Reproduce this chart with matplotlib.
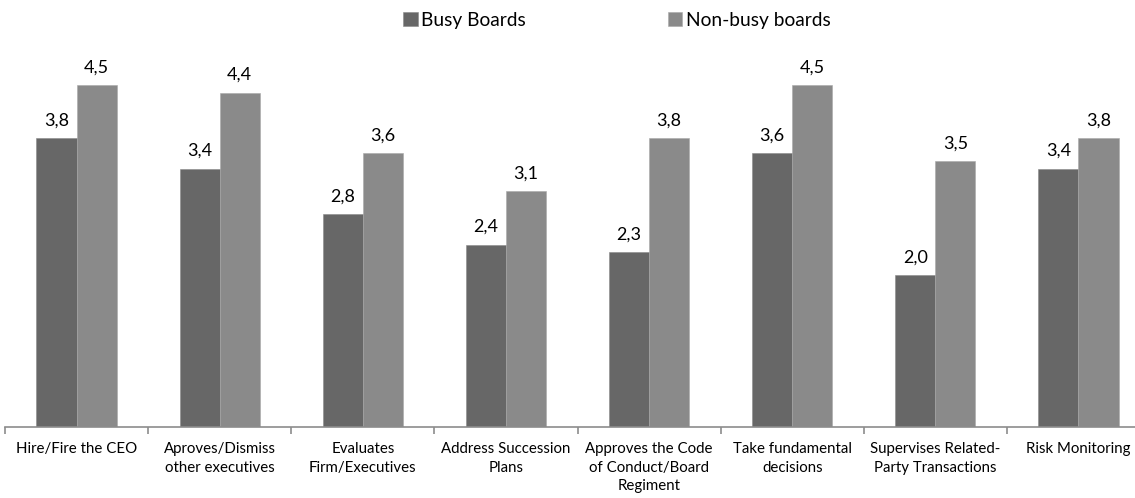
import matplotlib.pyplot as plt
import numpy as np

plt.rcParams['font.family'] = ['Lato', 'DejaVu Sans']

categories = ['Hire/Fire the CEO', 'Aproves/Dismiss\nother executives',
              'Evaluates\nFirm/Executives', 'Address Succession\nPlans',
              'Approves the Code\nof Conduct/Board\nRegiment', 'Take fundamental\ndecisions',
              'Supervises Related-\nParty Transactions', 'Risk Monitoring']
busy = [3.8, 3.4, 2.8, 2.4, 2.3, 3.6, 2.0, 3.4]
non_busy = [4.5, 4.4, 3.6, 3.1, 3.8, 4.5, 3.5, 3.8]

W, H = 1135, 498
fig = plt.figure(figsize=(W / 100, H / 100), dpi=100)
# axes in pixel terms: left 5, right 1150 (runs past the image edge), bottom 427, top 47
ax = fig.add_axes([5 / W, (H - 427) / H, 1145 / W, 380 / H])

x = np.arange(len(categories))
bw = 0.28
b1 = ax.bar(x - bw / 2, busy, bw, color='#676767', edgecolor='#8a8a8a', linewidth=0.4,
            label='Busy Boards')
b2 = ax.bar(x + bw / 2, non_busy, bw, color='#8a8a8a', edgecolor='#a8a8a8', linewidth=0.4,
            label='Non-busy boards')

for bars, vals in ((b1, busy), (b2, non_busy)):
    for r, v in zip(bars, vals):
        ax.annotate(f'{v:.1f}'.replace('.', ','), xy=(r.get_x() + r.get_width() / 2, v),
                    xytext=(0, 7), textcoords='offset points', ha='center', va='bottom',
                    fontsize=13, color='#000000')

ax.set_xlim(-0.5, len(categories) - 0.5)
ax.set_ylim(0, 5)
ax.set_yticks([])
for s in ('left', 'right', 'top'):
    ax.spines[s].set_visible(False)
ax.spines['bottom'].set_color('#8c8c8c')
ax.spines['bottom'].set_linewidth(1.2)

ax.set_xticks(np.arange(len(categories) + 1) - 0.5)
ax.set_xticklabels([])
ax.tick_params(axis='x', which='major', length=5, color='#8c8c8c', width=1.2)
ax.set_xticks(x, minor=True)
ax.set_xticklabels(categories, minor=True, fontsize=10.8, linespacing=1.4, va='top')
ax.tick_params(axis='x', which='minor', length=0, pad=11)

fig.legend(handles=[b1, b2], loc='center', bbox_to_anchor=(617 / W, 1 - 20 / H),
           ncol=2, frameon=False, fontsize=13.8, handlelength=0.75, handleheight=0.75,
           handletextpad=0.2, columnspacing=7.4, borderpad=0)

fig.savefig('out.png', dpi=100)
